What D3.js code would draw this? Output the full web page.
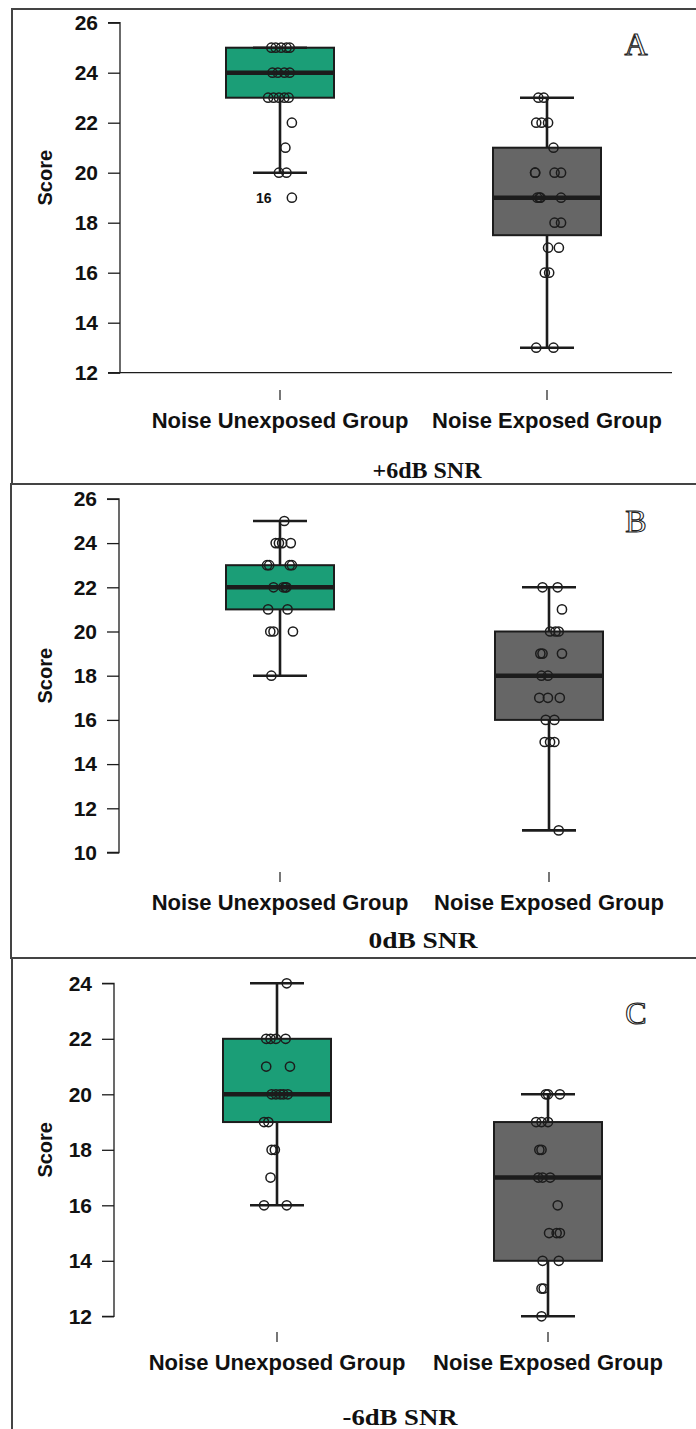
<!DOCTYPE html>
<html lang="en">
<head>
<meta charset="UTF-8">
<title>Score boxplots</title>
<script src="https://cdn.jsdelivr.net/npm/d3@7/dist/d3.min.js"></script>
<style>
  body { margin: 0; background: #fff; }
  svg { display: block; }
</style>
</head>
<body>
<svg id="chart"></svg>
<script>
// groups and panel texts
const categories = ["Noise Unexposed Group", "Noise Exposed Group"];
const panelTitles = ["+6dB SNR", "0dB SNR", "-6dB SNR"];
const panelLetters = ["A", "B", "C"];

// y tick labels of each panel
const ticksA = [12, 14, 16, 18, 20, 22, 24, 26];
const ticksB = [10, 12, 14, 16, 18, 20, 22, 24, 26];
const ticksC = [12, 14, 16, 18, 20, 22, 24];

// box stats per group: [lower whisker, Q1, median, Q3, upper whisker]
const statsA = [[20, 23, 24, 25, 25], [13, 17.5, 19, 21, 23]];
const statsB = [[18, 21, 22, 23, 25], [11, 16, 18, 20, 22]];
const statsC = [[16, 19, 20, 22, 24], [12, 14, 17, 19, 20]];

// individual scores
const scoresA_unexp = [25, 25, 25, 25, 25, 24, 24, 24, 24, 23, 23, 23, 23, 23, 22, 21, 20, 20, 19];
const scoresA_exp = [23, 23, 22, 22, 22, 21, 20, 20, 20, 20, 19, 19, 19, 19, 18, 18, 17, 17, 16, 16, 13, 13];
const scoresB_unexp = [25, 24, 24, 24, 24, 23, 23, 23, 23, 22, 22, 22, 22, 21, 21, 20, 20, 20, 18];
const scoresB_exp = [22, 22, 21, 20, 20, 20, 19, 19, 19, 18, 18, 17, 17, 17, 16, 16, 15, 15, 15, 11];
const scoresC_unexp = [24, 22, 22, 22, 22, 21, 21, 20, 20, 20, 20, 20, 19, 19, 18, 18, 17, 16, 16];
const scoresC_exp = [20, 20, 20, 19, 19, 19, 18, 18, 17, 17, 17, 16, 15, 15, 15, 14, 14, 13, 13, 12];

// horizontal jitter of each score, as a fraction of the box width
const jitA_unexp = [-.08, -.04, .01, .06, .09, -.07, -.02, .04, .09, -.11, -.06, -.01, .04, .08, .11, .05, -.01, .06, .11];
const jitA_exp = [-.08, -.03, -.10, -.05, .01, .06, -.11, -.11, .07, .13, -.09, -.07, -.06, .13, .07, .13, .01, .11, -.02, .02, -.10, .06];
const jitB_unexp = [.04, -.04, -.01, .02, .10, -.12, -.10, .09, .11, -.06, .03, .05, .06, -.11, .07, -.09, -.06, .12, -.08];
const jitB_exp = [-.06, .08, .12, .01, .06, .09, -.08, -.06, .12, -.07, -.01, -.09, -.01, .10, -.03, .05, -.04, .01, .05, .09];
const jitC_unexp = [.09, -.10, -.06, -.01, .08, -.10, .12, -.05, -.01, .03, .06, .10, -.12, -.08, -.05, -.02, -.06, -.12, .09];
const jitC_exp = [-.02, 0, .11, -.11, -.06, 0, -.08, -.06, -.09, -.05, .02, .09, .01, .08, .11, -.05, .10, -.06, -.04, -.06];

// labelled outlier
const outlierLabels = [{ panel: 0, group: 0, value: 19, text: "16" }];

const panels = [
  { ticks: ticksA, stats: statsA, scores: [scoresA_unexp, scoresA_exp], jit: [jitA_unexp, jitA_exp] },
  { ticks: ticksB, stats: statsB, scores: [scoresB_unexp, scoresB_exp], jit: [jitB_unexp, jitB_exp] },
  { ticks: ticksC, stats: statsC, scores: [scoresC_unexp, scoresC_exp], jit: [jitC_unexp, jitC_exp] }
];

// layout of each panel frame (pixels)
const layout = [
  { top: 9, bottom: 484, left: 12, axisX: 120, yRange: [372.7, 22.7], xRange: [280, 547], tickY: 390, labelY: 428, titleX: 427, titleY: 478, titleLen: 109, letterY: 55, baseLine: true },
  { top: 484, bottom: 958, left: 11, axisX: 119, yRange: [852.5, 498.9], xRange: [280, 549], tickY: 872, labelY: 910, titleX: 423, titleY: 948, titleLen: 109, letterY: 532, baseLine: false },
  { top: 958, bottom: 1440, left: 12, axisX: 114, yRange: [1316.3, 983.3], xRange: [277, 548], tickY: 1332, labelY: 1370, titleX: 400, titleY: 1425, titleLen: 115, letterY: 1024, baseLine: false }
];

const W = 696, H = 1429;
const boxW = 108, capW = 54;
const fills = ["#1b9e77", "#666666"];
const ink = "#1c1c1c";

const svg = d3.select("#chart").attr("width", W).attr("height", H);

panels.forEach(function (p, pi) {
  const L = layout[pi];
  const g = svg.append("g");

  // panel frame (runs past the right edge)
  g.append("rect")
    .attr("x", L.left).attr("y", L.top)
    .attr("width", W + 20).attr("height", L.bottom - L.top)
    .attr("fill", "none").attr("stroke", "#444").attr("stroke-width", 2);

  const y = d3.scaleLinear().domain([d3.min(p.ticks), d3.max(p.ticks)]).range(L.yRange);
  const x = d3.scalePoint().domain(categories).range(L.xRange);

  // y axis
  const yAxis = g.append("g")
    .attr("transform", "translate(" + L.axisX + ",0)")
    .call(d3.axisLeft(y).tickValues(p.ticks).tickSize(12).tickPadding(10).tickFormat(d3.format("d")));
  yAxis.select(".domain").attr("stroke", ink).attr("stroke-width", 1.3).attr("d",
    "M-12," + y(d3.max(p.ticks)) + "H0V" + y(d3.min(p.ticks)) + "H-12");
  yAxis.selectAll(".tick line").attr("stroke", ink).attr("stroke-width", 1.3);
  yAxis.selectAll(".tick text")
    .attr("fill", "#111")
    .style("font-family", "'Liberation Sans', Arial, sans-serif")
    .style("font-size", "21px").style("font-weight", "bold");

  if (L.baseLine) {
    g.append("line")
      .attr("x1", L.axisX - 12).attr("x2", 672)
      .attr("y1", y(d3.min(p.ticks))).attr("y2", y(d3.min(p.ticks)))
      .attr("stroke", ink).attr("stroke-width", 1.3);
  }

  // y title
  const midY = (L.yRange[0] + L.yRange[1]) / 2 - (pi === 0 ? 20 : 0);
  g.append("text")
    .attr("transform", "translate(52," + midY + ") rotate(-90)")
    .attr("text-anchor", "middle")
    .style("font-family", "'Liberation Sans', Arial, sans-serif")
    .style("font-size", "20px").style("font-weight", "bold")
    .attr("fill", "#111")
    .text("Score");

  // x ticks and labels (no axis line)
  categories.forEach(function (c) {
    g.append("line")
      .attr("x1", x(c)).attr("x2", x(c))
      .attr("y1", L.tickY).attr("y2", L.tickY + 10)
      .attr("stroke", ink).attr("stroke-width", 1.2);
    g.append("text")
      .attr("x", x(c)).attr("y", L.labelY)
      .attr("text-anchor", "middle")
      .style("font-family", "'Liberation Sans', Arial, sans-serif")
      .style("font-size", "22px").style("font-weight", "bold")
      .attr("fill", "#111")
      .text(c);
  });

  // boxes
  categories.forEach(function (c, gi) {
    const s = p.stats[gi];
    const cx = x(c);
    g.append("line")
      .attr("x1", cx).attr("x2", cx)
      .attr("y1", y(s[0])).attr("y2", y(s[4]))
      .attr("stroke", ink).attr("stroke-width", 2.6);
    g.append("rect")
      .attr("x", cx - boxW / 2).attr("y", y(s[3]))
      .attr("width", boxW).attr("height", y(s[1]) - y(s[3]))
      .attr("fill", fills[gi]).attr("stroke", ink).attr("stroke-width", 2);
    g.append("line")
      .attr("x1", cx - boxW / 2 + 1).attr("x2", cx + boxW / 2 - 1)
      .attr("y1", y(s[2])).attr("y2", y(s[2]))
      .attr("stroke", ink).attr("stroke-width", 4.5);
    [s[0], s[4]].forEach(function (v) {
      g.append("line")
        .attr("x1", cx - capW / 2).attr("x2", cx + capW / 2)
        .attr("y1", y(v)).attr("y2", y(v))
        .attr("stroke", ink).attr("stroke-width", 2.6);
    });

    // jittered points
    g.selectAll(null)
      .data(p.scores[gi].map(function (v, i) { return { v: v, j: p.jit[gi][i] }; }))
      .enter().append("circle")
      .attr("cx", function (d) { return cx + d.j * boxW; })
      .attr("cy", function (d) { return y(d.v); })
      .attr("r", 4.6)
      .attr("fill", "none")
      .attr("stroke", ink)
      .attr("stroke-width", 1.5);
  });

  // outlier ids
  outlierLabels.filter(function (o) { return o.panel === pi; }).forEach(function (o) {
    const idx = p.scores[o.group].indexOf(o.value);
    const px = x(categories[o.group]) + p.jit[o.group][idx] * boxW;
    g.append("text")
      .attr("x", px - 28).attr("y", y(o.value) + 5)
      .attr("text-anchor", "middle")
      .style("font-family", "'Liberation Sans', Arial, sans-serif")
      .style("font-size", "14px").style("font-weight", "bold")
      .attr("fill", "#111")
      .text(o.text);
  });

  // panel letter (outlined serif)
  g.append("text")
    .attr("x", 636).attr("y", L.letterY)
    .attr("text-anchor", "middle")
    .style("font-family", "'Liberation Serif', 'DejaVu Serif', serif")
    .style("font-size", "32px")
    .attr("fill", "#fff").attr("stroke", "#222").attr("stroke-width", 1.1)
    .text(panelLetters[pi]);

  // condition title
  g.append("text")
    .attr("x", L.titleX).attr("y", L.titleY)
    .attr("text-anchor", "middle")
    .attr("textLength", L.titleLen).attr("lengthAdjust", "spacingAndGlyphs")
    .style("font-family", "'Liberation Serif', 'DejaVu Serif', serif")
    .style("font-size", "23px").style("font-weight", "bold")
    .attr("fill", "#111")
    .text(panelTitles[pi]);
});
</script>
</body>
</html>
